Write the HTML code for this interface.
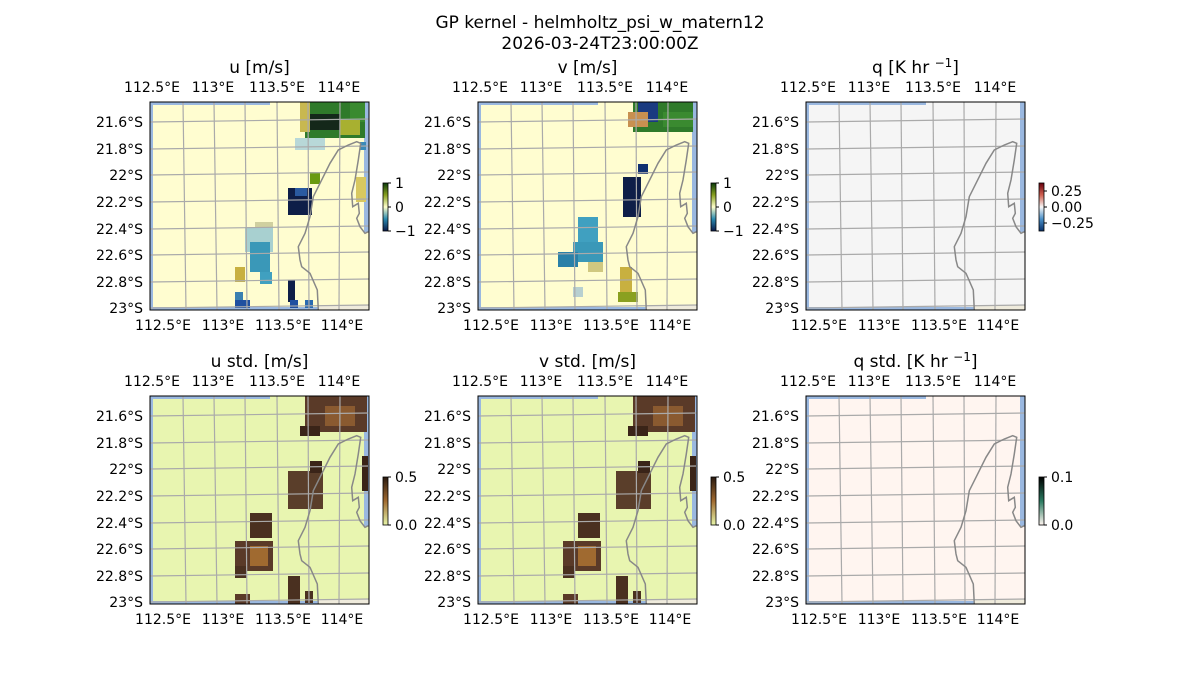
<!DOCTYPE html>
<html><head><meta charset="utf-8"><style>
body{margin:0;background:#fff}
svg{display:block;font-family:"DejaVu Sans","Liberation Sans",sans-serif}
</style></head><body>
<svg id="s" width="1200" height="700" xmlns="http://www.w3.org/2000/svg">
<text x="600" y="28" font-size="17" text-anchor="middle">GP kernel - helmholtz_psi_w_matern12</text>
<text x="600" y="49" font-size="17" text-anchor="middle">2026-03-24T23:00:00Z</text>
</svg>
<script>
const S=document.getElementById('s');let h='';
const coast=[[168.3,208],[167.3,188],[160,171.3],[151.7,164.7],[150,158],[148.3,144.7],[155,131.3],[160,114.7],[163.3,94.7],[170,81.3],[180,61.3],[188.3,48],[198.3,43],[206.7,39.7],[210.7,41.3],[208.3,58],[205,78],[201.7,91.3],[202.7,104.7],[208.3,101.3],[209.3,111.3],[206.7,116.3],[210,124.7],[215,131.3],[218.3,129.7]];
function panel(X,Y,title,bg,blobs,cb){
 const W=219,H=208;
 h+=`<text x="${X+W/2}" y="${Y-29}" font-size="17" text-anchor="middle">${title}</text>`;
 h+=`<rect x="${X}" y="${Y}" width="${W}" height="${H}" fill="${bg}"/>`;
 h+=`<rect x="${X+168}" y="${Y+203}" width="51" height="5" fill="#efebdc"/>`;
 h+=`<rect x="${X}" y="${Y}" width="3" height="${H}" fill="#9ab8e0"/><rect x="${X}" y="${Y}" width="120" height="3" fill="#9ab8e0"/><rect x="${X+214}" y="${Y}" width="5" height="130" fill="#9ab8e0"/><rect x="${X}" y="${Y+205}" width="168" height="3" fill="#9ab8e0"/>`;
 for(const b of blobs)h+=`<rect x="${X+b[0]}" y="${Y+b[1]}" width="${b[2]}" height="${b[3]}" fill="${b[4]}"/>`;
 const tx=[33,64,95,127,158,190],bx=[36,67,97,129,159,189];
 for(let i=0;i<6;i++)h+=`<line x1="${X+tx[i]}" y1="${Y}" x2="${X+bx[i]}" y2="${Y+H}" stroke="#aaa" stroke-width="1.2"/>`;
 const ly=[20,47,73,100,127,153,180,206];
 for(const y of ly)h+=`<line x1="${X}" y1="${Y+y}" x2="${X+W}" y2="${Y+y-3}" stroke="#aaa" stroke-width="1.2"/>`;
 h+=`<polyline fill="none" stroke="#888" stroke-width="1.5" points="${coast.map(p=>(X+p[0])+','+(Y+p[1])).join(' ')}"/>`;
 h+=`<rect x="${X}" y="${Y}" width="${W}" height="${H}" fill="none" stroke="#000" stroke-width="1"/>`;
 const tl=['112.5°E','113°E','113.5°E','114°E'],tc=[2,63,127,189],bc=[13,73,133,192];
 for(let i=0;i<4;i++){h+=`<text x="${X+tc[i]}" y="${Y-10}" font-size="14" text-anchor="middle">${tl[i]}</text>`;h+=`<text x="${X+bc[i]}" y="${Y+H+20}" font-size="14" text-anchor="middle">${tl[i]}</text>`;}
 const ll=['21.6°S','21.8°S','22°S','22.2°S','22.4°S','22.6°S','22.8°S','23°S'];
 ll.forEach((t,i)=>h+=`<text x="${X-7}" y="${Y+ly[i]+5}" font-size="14" text-anchor="end">${t}</text>`);
 const cx=X+233,cy=Y+81;
 const id='g'+X+'_'+Y;
 h+=`<defs><linearGradient id="${id}" x1="0" y1="1" x2="0" y2="0">${cb.stops.map((c,i)=>`<stop offset="${i/(cb.stops.length-1)}" stop-color="${c}"/>`).join('')}</linearGradient></defs>`;
 h+=`<rect x="${cx}" y="${cy}" width="5" height="48" fill="url(#${id})" stroke="#000" stroke-width="0.8"/>`;
 cb.ticks.forEach(t=>{const y=cy+t[0];h+=`<line x1="${cx+5}" y1="${y}" x2="${cx+8}" y2="${y}" stroke="#000"/><text x="${cx+12}" y="${y+5}" font-size="14">${t[1]}</text>`;});
}
const uc={stops:['#0a1a4a','#2a8ab0','#ffffcc','#88a020','#0a3a0a'],ticks:[[0,'1'],[24,'0'],[48,'−1']]};
const sc={stops:['#e8f5a8','#a06a30','#2a1a10'],ticks:[[0,'0.5'],[48,'0.0']]};
const ublobs=[[155,0,60,36,'#2f7a2a'],[150,0,10,30,'#c8b850'],[200,0,15,20,'#3a8a30'],[160,12,30,16,'#14281a'],[190,18,20,15,'#a8b030'],[145,36,30,12,'#b8d8d8'],[210,40,6,8,'#3a8ab8'],[160,70,10,12,'#6a9a10'],[206,75,10,25,'#d8c860'],[138,86,24,27,'#0e1e48'],[145,86,12,8,'#2a5aa0'],[105,120,18,8,'#d0d0a0'],[95,125,28,25,'#a8d0d0'],[100,140,20,30,'#3a98b8'],[85,165,10,15,'#c8b040'],[110,170,12,12,'#40a0c0'],[138,178,7,22,'#0e1e48'],[85,190,8,8,'#3a80b0'],[85,198,15,8,'#2050a0'],[140,198,8,8,'#2050a0'],[155,198,8,8,'#2a6ab0']];
const vblobs=[[155,0,60,30,'#2f7a2a'],[160,0,20,20,'#1a3a80'],[150,10,20,15,'#c89050'],[185,10,30,15,'#3a8a30'],[160,62,10,10,'#103070'],[145,75,18,40,'#0e1e48'],[100,115,20,25,'#40a0c0'],[95,140,30,20,'#3a98b8'],[80,150,20,15,'#2a80a8'],[110,160,15,10,'#d0c880'],[142,165,12,30,'#c8b040'],[95,185,10,10,'#b8d0d0'],[140,190,20,10,'#8aa020']];
const sblobs=[[155,0,62,36,'#5a3a28'],[175,10,30,20,'#8a5a30'],[150,30,20,10,'#3a2418'],[138,75,35,38,'#5a3e2a'],[160,65,12,12,'#3a2418'],[212,60,6,35,'#3a2418'],[100,117,22,25,'#4a3020'],[85,145,38,30,'#5a3a28'],[100,150,18,20,'#a06a30'],[85,170,12,12,'#4a3020'],[138,180,12,28,'#4a3020'],[85,198,15,10,'#5a3a28'],[155,195,8,12,'#4a3020']];
panel(150,102,'u [m/s]','#fffdd0',ublobs,uc);
panel(478,102,'v [m/s]','#fffdd0',vblobs,uc);
panel(806,102,'q [K hr <tspan dy="-6" font-size="12">−1</tspan><tspan dy="6">]</tspan>','#f5f5f5',[],{stops:['#08306b','#4a90c8','#f7f7f7','#d06050','#67000d'],ticks:[[8,'0.25'],[24,'0.00'],[40,'−0.25']]});
panel(150,396,'u std. [m/s]','#e8f5b0',sblobs,sc);
panel(478,396,'v std. [m/s]','#e8f5b0',sblobs,sc);
panel(806,396,'q std. [K hr <tspan dy="-6" font-size="12">−1</tspan><tspan dy="6">]</tspan>','#fff5f0',[],{stops:['#fff5f0','#2a7a60','#000'],ticks:[[0,'0.1'],[48,'0.0']]});
S.insertAdjacentHTML('beforeend',h);
</script>
</body></html>
